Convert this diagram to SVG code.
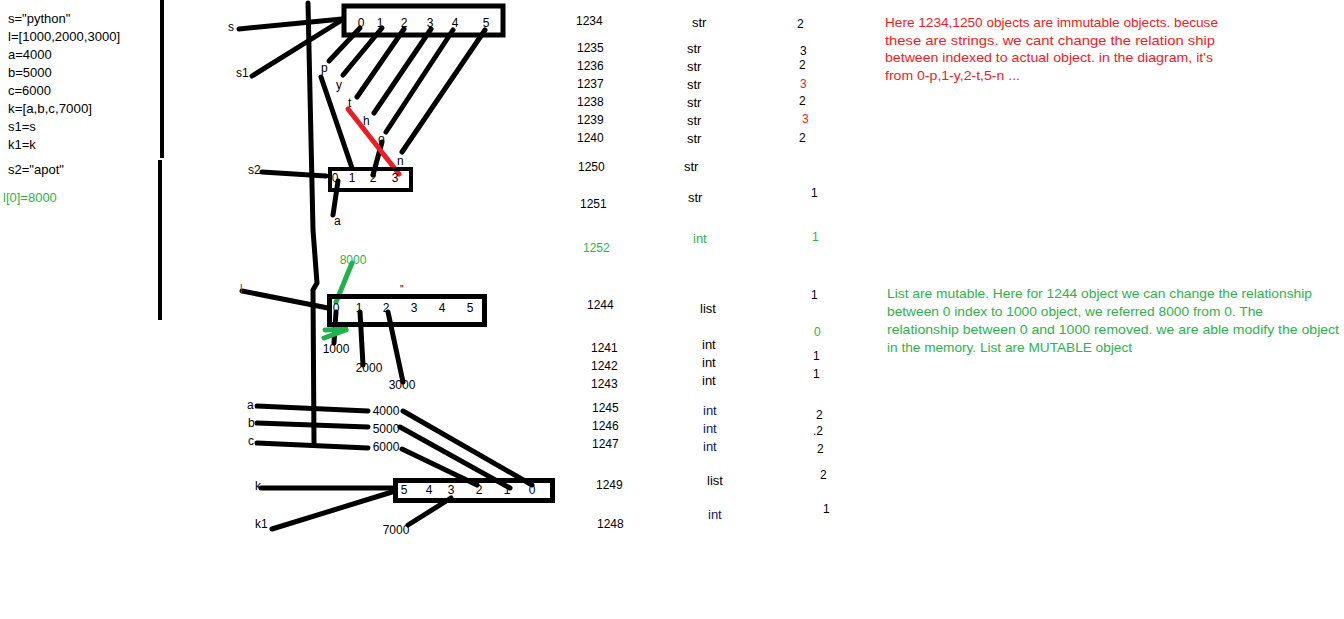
<svg xmlns="http://www.w3.org/2000/svg" width="1344" height="619" viewBox="0 0 1344 619">
<style>
text{font-family:"Liberation Sans",Arial,sans-serif;font-size:12px;fill:#000}
.code{font-size:13px}
.t13{font-size:13px}
.mid{text-anchor:middle}
.red{fill:#ed1c24}
.grn{fill:#2db34a}
.box{fill:none;stroke:#000;stroke-width:5}
.ln{stroke:#000;stroke-width:5;stroke-linecap:round;fill:none}
.lr{stroke:#ed1c24;stroke-width:5;stroke-linecap:round}
.lg{stroke:#22b14c;stroke-width:5;stroke-linecap:round}
.note{font-size:13px}
</style>
<rect width="1344" height="619" fill="#fff"/>
<g id="dividers">
<line x1="162" y1="0" x2="162" y2="158" stroke="#000" stroke-width="4"/>
<line x1="160" y1="160" x2="160" y2="320" stroke="#000" stroke-width="4"/>
<polyline class="ln" points="308,3 313,230 317,283 313,290 314,443"/>
</g>
<g id="code">
<text class="code" x="8" y="23">s="python"</text>
<text class="code" x="8" y="41" textLength="112" lengthAdjust="spacingAndGlyphs">l=[1000,2000,3000]</text>
<text class="code" x="8" y="59">a=4000</text>
<text class="code" x="8" y="77">b=5000</text>
<text class="code" x="8" y="95">c=6000</text>
<text class="code" x="8" y="113" textLength="84" lengthAdjust="spacingAndGlyphs">k=[a,b,c,7000]</text>
<text class="code" x="8" y="131">s1=s</text>
<text class="code" x="8" y="149">k1=k</text>
<text class="code" x="8" y="174">s2="apot"</text>
<text class="code grn" x="3" y="202">l[0]=8000</text>
</g>
<g id="connectors">
<line class="ln" x1="239" y1="29" x2="342" y2="19"/>
<line class="ln" x1="252" y1="76" x2="342" y2="20"/>
<line class="ln" x1="360" y1="28" x2="329" y2="61"/>
<line class="ln" x1="382" y1="28" x2="343" y2="75"/>
<line class="ln" x1="404" y1="29" x2="357" y2="97"/>
<line class="ln" x1="431" y1="29" x2="374" y2="113"/>
<line class="ln" x1="453" y1="30" x2="386" y2="132"/>
<line class="ln" x1="485" y1="30" x2="402" y2="152"/>
<line class="ln" x1="321" y1="77" x2="352" y2="168"/>
<line class="ln" x1="382" y1="142" x2="373" y2="175"/>
<line class="lr" x1="348" y1="109" x2="399" y2="174"/>
<line class="ln" x1="262" y1="172" x2="326" y2="176"/>
<line class="ln" x1="338" y1="181" x2="333" y2="215"/>
<line class="ln" x1="242" y1="291" x2="328" y2="308"/>
<line class="lg" x1="352" y1="263" x2="336" y2="302"/>
<line class="ln" x1="336" y1="312" x2="334" y2="343"/>
<line class="lg" x1="325" y1="330" x2="346" y2="329"/>
<line class="lg" x1="324" y1="338" x2="346" y2="330"/>
<line class="ln" x1="360" y1="312" x2="363" y2="365"/>
<line class="ln" x1="388" y1="312" x2="403" y2="382"/>
<line class="ln" x1="257" y1="406" x2="368" y2="411"/>
<line class="ln" x1="257" y1="423" x2="368" y2="427"/>
<line class="ln" x1="257" y1="443" x2="368" y2="448"/>
<line class="ln" x1="403" y1="411" x2="532" y2="485"/>
<line class="ln" x1="400" y1="427" x2="510" y2="488"/>
<line class="ln" x1="402" y1="449" x2="477" y2="485"/>
<line class="ln" x1="261" y1="488" x2="392" y2="488"/>
<line class="ln" x1="272" y1="529" x2="392" y2="492"/>
<line class="ln" x1="451" y1="498" x2="408" y2="525"/>
</g>
<g id="var-labels">
<text x="228" y="31">s</text>
<text x="236" y="77">s1</text>
<text x="248" y="174">s2</text>
<text x="240" y="293" style="fill:#8a4a00">l</text>
<text x="247" y="409">a</text>
<text x="248" y="427">b</text>
<text x="248" y="445">c</text>
<text x="255" y="490">k</text>
<text x="255" y="528">k1</text>
</g>
<g id="str-python">
<rect class="box" x="344" y="6" width="159" height="29"/>
<text class="mid" x="361" y="27">0</text>
<text class="mid" x="380" y="27">1</text>
<text class="mid" x="404" y="27">2</text>
<text class="mid" x="430" y="27">3</text>
<text class="mid" x="455" y="27">4</text>
<text class="mid" x="486" y="27">5</text>
</g>
<g id="chars">
<text x="321" y="72">p</text>
<text x="336" y="89">y</text>
<text x="348" y="107">t</text>
<text x="363" y="125">h</text>
<text x="378" y="143">o</text>
<text x="397" y="165">n</text>
</g>
<g id="str-apot">
<rect x="330" y="169" width="81" height="21" fill="none" stroke="#000" stroke-width="4"/>
<text class="mid" x="335" y="182">0</text>
<text class="mid" x="352" y="182">1</text>
<text class="mid" x="373" y="182">2</text>
<text class="mid" x="395" y="182">3</text>
<text x="334" y="225">a</text>
</g>
<g id="list-l">
<rect class="box" x="329.5" y="296.5" width="155" height="28"/>
<text class="mid" x="336" y="312">0</text>
<text class="mid" x="359" y="312">1</text>
<text class="mid" x="386" y="312">2</text>
<text class="mid" x="414" y="312">3</text>
<text class="mid" x="442" y="312">4</text>
<text class="mid" x="470" y="312">5</text>
<text x="400" y="293" style="font-size:10px">"</text>
</g>
<g id="ints">
<text class="mid grn" x="353" y="264">8000</text>
<text class="mid" x="336" y="353">1000</text>
<text class="mid" x="369" y="372">2000</text>
<text class="mid" x="402" y="389">3000</text>
<text class="mid" x="386" y="415">4000</text>
<text class="mid" x="386" y="433">5000</text>
<text class="mid" x="386" y="451">6000</text>
<text class="mid" x="396" y="534">7000</text>
</g>
<g id="list-k">
<rect class="box" x="395.5" y="480.5" width="157" height="20"/>
<text class="mid" x="404" y="494">5</text>
<text class="mid" x="429" y="494">4</text>
<text class="mid" x="451" y="494">3</text>
<text class="mid" x="479" y="494">2</text>
<text class="mid" x="507" y="494">1</text>
<text class="mid" x="532" y="494">0</text>
</g>
<g id="ids">
<text x="576" y="25">1234</text>
<text x="577" y="52">1235</text>
<text x="577" y="70">1236</text>
<text x="577" y="88">1237</text>
<text x="577" y="106">1238</text>
<text x="577" y="124">1239</text>
<text x="577" y="142">1240</text>
<text x="578" y="171">1250</text>
<text x="580" y="208">1251</text>
<text class="grn" x="583" y="252">1252</text>
<text x="587" y="309">1244</text>
<text x="591" y="352">1241</text>
<text x="591" y="370">1242</text>
<text x="591" y="388">1243</text>
<text x="592" y="412">1245</text>
<text x="592" y="430">1246</text>
<text x="592" y="448">1247</text>
<text x="596" y="489">1249</text>
<text x="597" y="528">1248</text>
</g>
<g id="types">
<text class="t13" x="692" y="27">str</text>
<text class="t13" x="687" y="53">str</text>
<text class="t13" x="687" y="71">str</text>
<text class="t13" x="687" y="89">str</text>
<text class="t13" x="687" y="107">str</text>
<text class="t13" x="687" y="125">str</text>
<text class="t13" x="687" y="143">str</text>
<text class="t13" x="684" y="171">str</text>
<text class="t13" x="688" y="202">str</text>
<text class="t13 grn" x="693" y="243">int</text>
<text class="t13" x="700" y="313">list</text>
<text class="t13" x="702" y="349">int</text>
<text class="t13" x="702" y="367">int</text>
<text class="t13" x="702" y="385">int</text>
<text class="t13" x="703" y="415" style="fill:#0a2060">int</text>
<text class="t13" x="703" y="433" style="fill:#0a2060">int</text>
<text class="t13" x="703" y="451" style="fill:#0a2060">int</text>
<text class="t13" x="707" y="485">list</text>
<text class="t13" x="708" y="519" style="fill:#0a2060">int</text>
</g>
<g id="refcounts">
<text x="797" y="28">2</text>
<text x="800" y="55">3</text>
<text x="799" y="69">2</text>
<text class="red" x="800" y="88">3</text>
<text x="799" y="105">2</text>
<text class="red" x="802" y="123">3</text>
<text x="799" y="142">2</text>
<text x="811" y="197">1</text>
<text class="grn" x="812" y="241">1</text>
<text x="811" y="299">1</text>
<text class="grn" x="814" y="336">0</text>
<text x="813" y="360">1</text>
<text x="813" y="378">1</text>
<text x="816" y="419">2</text>
<text x="813" y="435">.2</text>
<text x="817" y="453">2</text>
<text x="820" y="479">2</text>
<text x="823" y="513">1</text>
</g>
<g id="note-immutable">
<text class="note red" x="885" y="27" textLength="333" lengthAdjust="spacingAndGlyphs">Here 1234,1250 objects are immutable objects. becuse</text>
<text class="note red" x="885" y="45" textLength="330" lengthAdjust="spacingAndGlyphs">these are strings. we cant change the relation ship</text>
<text class="note red" x="885" y="62" textLength="328" lengthAdjust="spacingAndGlyphs">between indexed to actual object. in the diagram, it's</text>
<text class="note red" x="885" y="80" textLength="135" lengthAdjust="spacingAndGlyphs">from 0-p,1-y,2-t,5-n ...</text>
</g>
<g id="note-mutable">
<text class="note grn" x="887" y="298" textLength="425" lengthAdjust="spacingAndGlyphs">List are mutable. Here for 1244 object we can change the relationship</text>
<text class="note grn" x="887" y="316" textLength="376" lengthAdjust="spacingAndGlyphs">between 0 index to 1000 object, we referred 8000 from 0. The</text>
<text class="note grn" x="887" y="334" textLength="452" lengthAdjust="spacingAndGlyphs">relationship between 0 and 1000 removed. we are able modify the object</text>
<text class="note grn" x="887" y="352" textLength="245" lengthAdjust="spacingAndGlyphs">in the memory. List are MUTABLE object</text>
</g>
</svg>
